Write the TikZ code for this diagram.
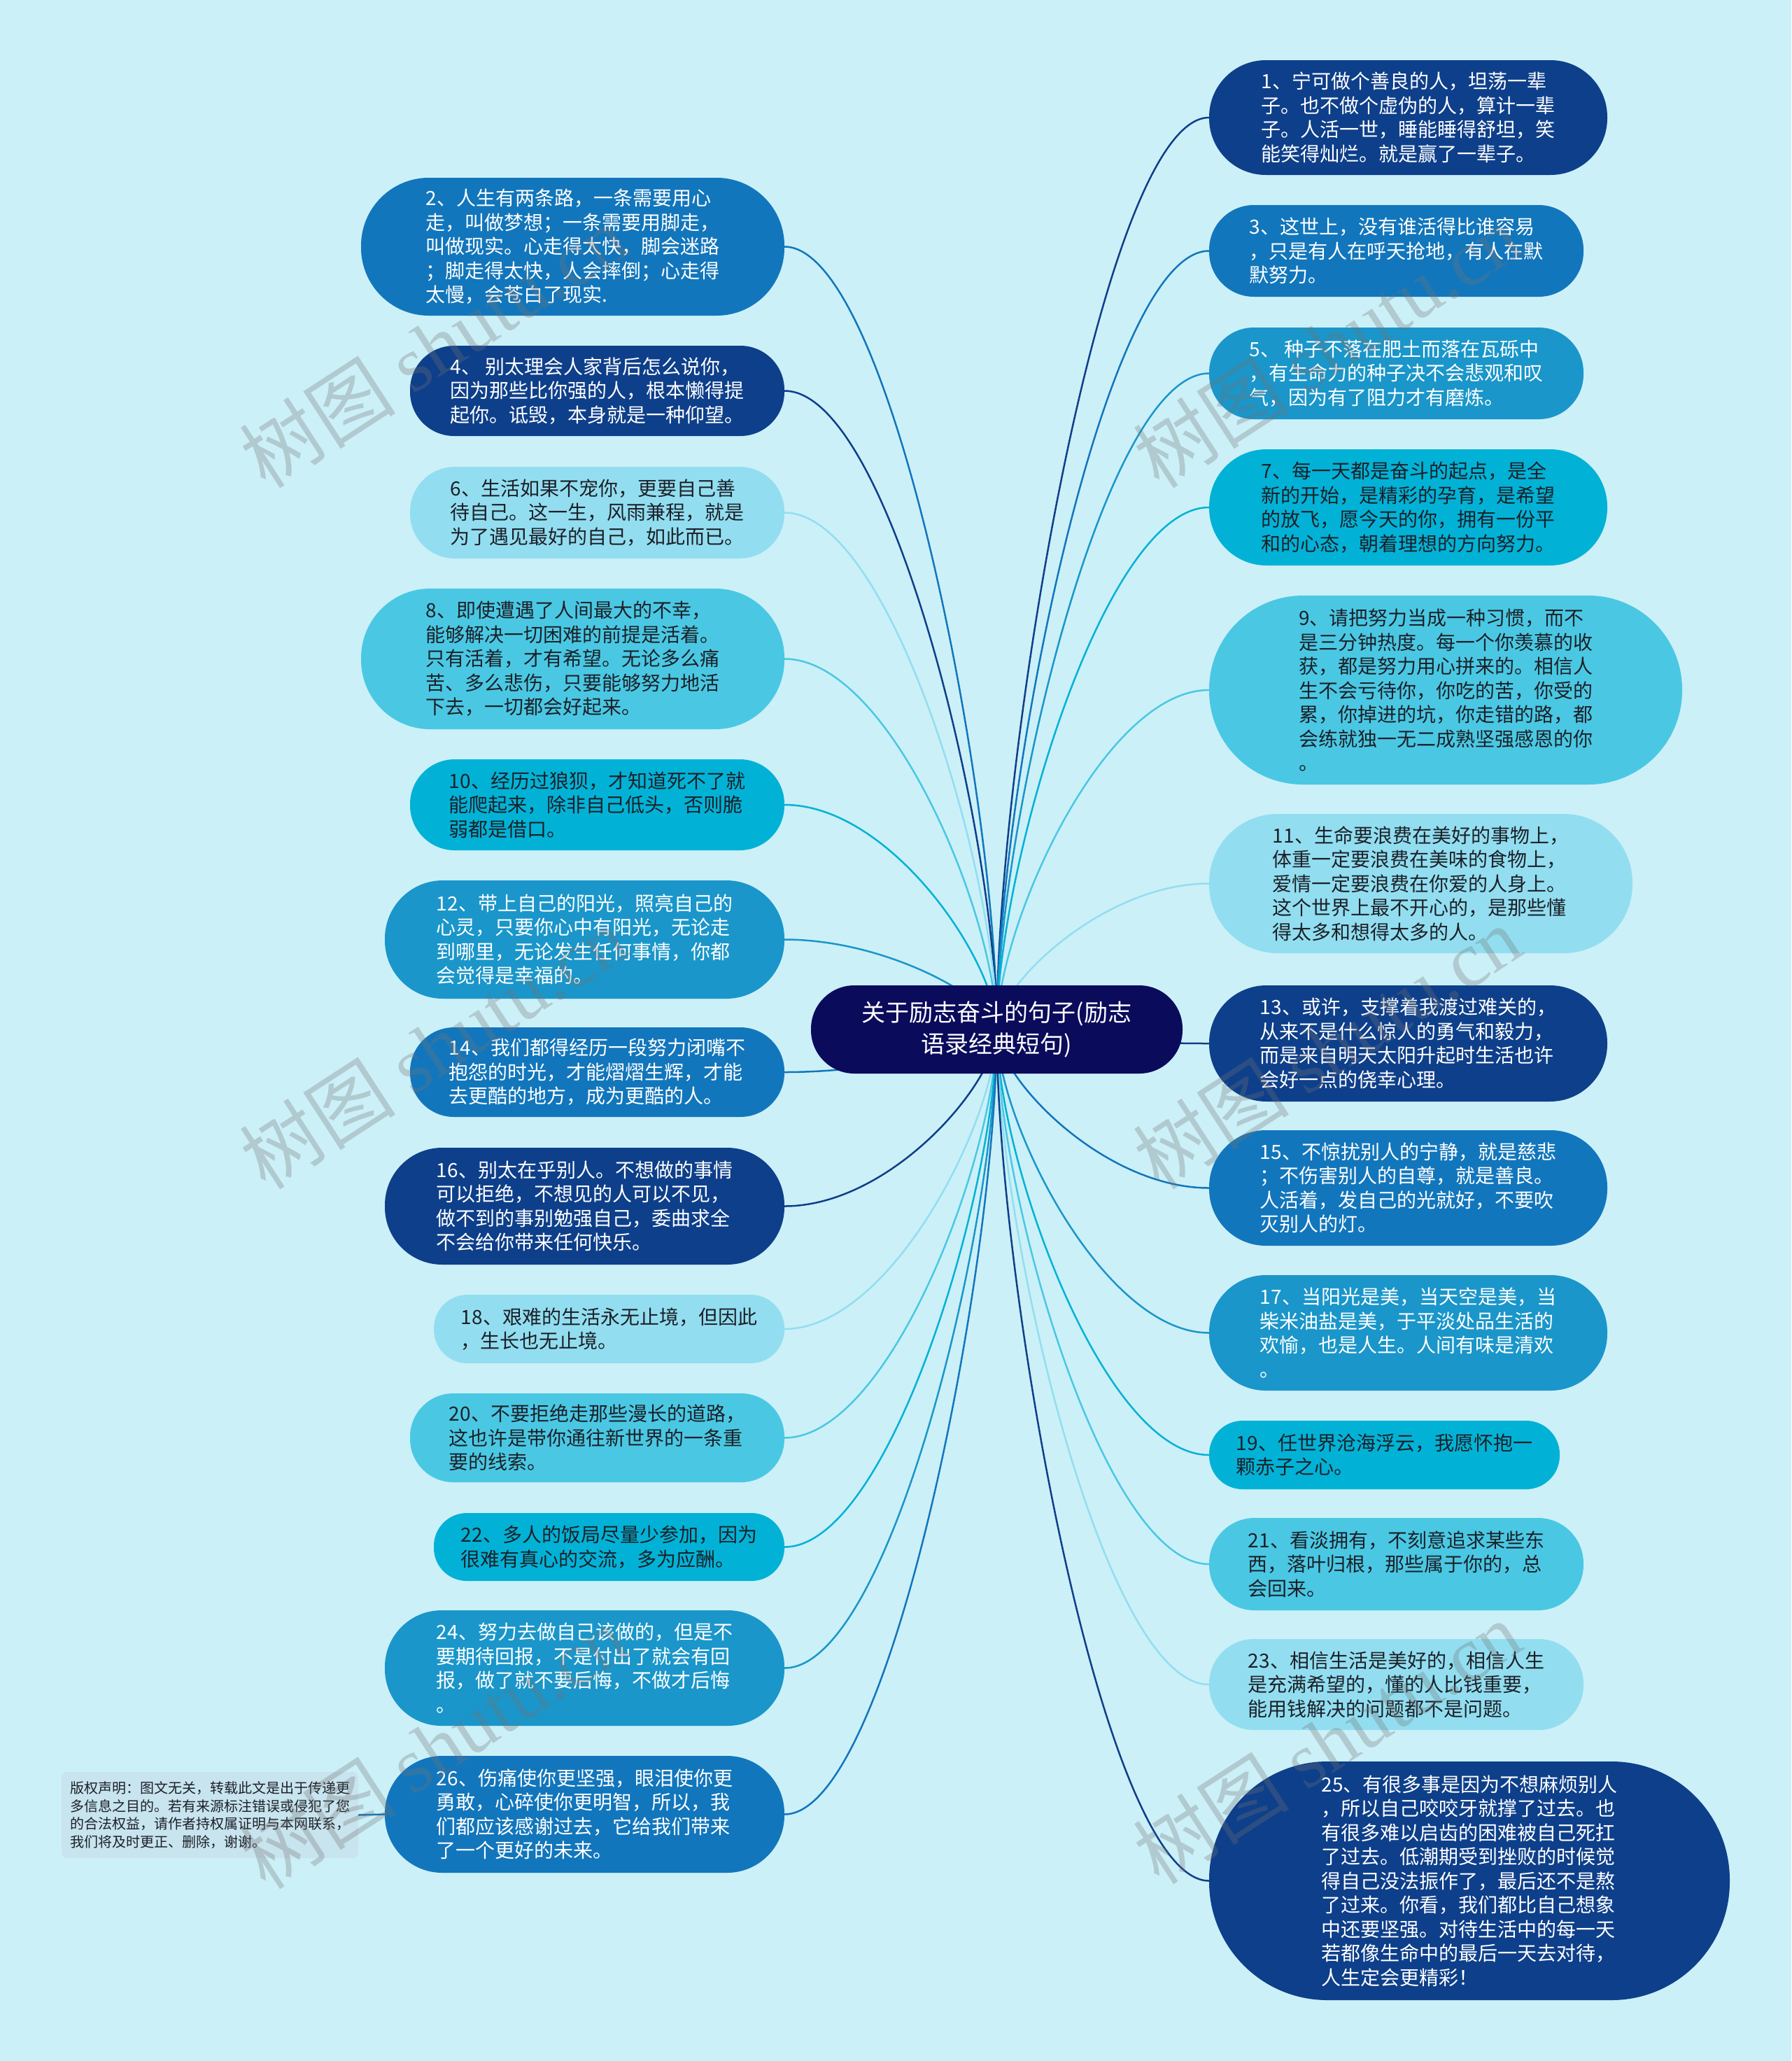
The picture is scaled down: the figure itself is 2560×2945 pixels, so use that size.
\documentclass[tikz,border=0pt]{standalone}
\usepackage{fontspec}
\setmainfont{Noto Sans CJK SC}
\newfontfamily\wmserif{Liberation Serif}
\usetikzlibrary{calc}
\definecolor{bgc}{RGB}{204,240,248}
\definecolor{cnavy}{RGB}{14,63,138}
\definecolor{cblue}{RGB}{18,118,188}
\definecolor{cmid}{RGB}{26,150,202}
\definecolor{ccyan}{RGB}{2,178,214}
\definecolor{clight}{RGB}{74,200,227}
\definecolor{cpale}{RGB}{146,222,240}
\definecolor{ccenter}{RGB}{11,11,92}
\definecolor{cnote}{RGB}{200,228,238}
\definecolor{txtdark}{RGB}{28,32,40}
\pgfdeclarelayer{back}
\pgfdeclarelayer{lines}
\pgfsetlayers{back,lines,main}
\tikzset{
  bx/.style={inner sep=0pt, align=left, font=\fontsize{28pt}{34.5pt}\selectfont},
  wt/.style={text=white},
  dk/.style={text=txtdark},
  conn/.style={line width=2.5pt},
  wm/.style={font=\fontsize{112pt}{112pt}\selectfont, text=black!55, text opacity=0.3, rotate=33, anchor=south west, inner sep=0pt}
}
\begin{document}
\begin{tikzpicture}[x=1pt,y=-1pt]
\begin{pgfonlayer}{back}
\fill[bgc] (0,0) rectangle (2560,2945);
\end{pgfonlayer}
\useasboundingbox (0,0) rectangle (2560,2945);

% center
\node[inner sep=0pt, align=center, fill=ccenter, text=white, font=\fontsize{34pt}{45pt}\selectfont, minimum width=531pt, minimum height=126pt, rounded corners=62pt] (c) at (1424.5,1471) {关于励志奋斗的句子(励志\\语录经典短句)};

% left nodes
\node[bx, fill=cblue, wt, minimum width=605pt, minimum height=197pt, rounded corners=97pt] (n2) at (818.5,352.5) {2、人生有两条路，一条需要用心\\走，叫做梦想；一条需要用脚走，\\叫做现实。心走得太快，脚会迷路\\；脚走得太快，人会摔倒；心走得\\太慢，会苍白了现实.};
\node[bx, fill=cnavy, wt, minimum width=535pt, minimum height=129pt, rounded corners=63pt] (n4) at (853.5,558.5) {4、 别太理会人家背后怎么说你，\\因为那些比你强的人，根本懒得提\\起你。诋毁，本身就是一种仰望。};
\node[bx, fill=cpale, dk, minimum width=535pt, minimum height=131pt, rounded corners=64pt] (n6) at (853.5,732.5) {6、生活如果不宠你，更要自己善\\待自己。这一生，风雨兼程，就是\\为了遇见最好的自己，如此而已。};
\node[bx, fill=clight, dk, minimum width=605pt, minimum height=201pt, rounded corners=99pt] (n8) at (818.5,941.5) {8、即使遭遇了人间最大的不幸，\\能够解决一切困难的前提是活着。\\只有活着，才有希望。无论多么痛\\苦、多么悲伤，只要能够努力地活\\下去，一切都会好起来。};
\node[bx, fill=ccyan, dk, minimum width=535pt, minimum height=130pt, rounded corners=64pt] (n10) at (853.5,1150) {10、经历过狼狈，才知道死不了就\\能爬起来，除非自己低头，否则脆\\弱都是借口。};
\node[bx, fill=cmid, wt, minimum width=571pt, minimum height=169pt, rounded corners=83pt] (n12) at (835.5,1342.5) {12、带上自己的阳光，照亮自己的\\心灵，只要你心中有阳光，无论走\\到哪里，无论发生任何事情，你都\\会觉得是幸福的。};
\node[bx, fill=cblue, wt, minimum width=535pt, minimum height=128pt, rounded corners=63pt] (n14) at (853.5,1532) {14、我们都得经历一段努力闭嘴不\\抱怨的时光，才能熠熠生辉，才能\\去更酷的地方，成为更酷的人。};
\node[bx, fill=cnavy, wt, minimum width=571pt, minimum height=167pt, rounded corners=82pt] (n16) at (835.5,1723.5) {16、别太在乎别人。不想做的事情\\可以拒绝，不想见的人可以不见，\\做不到的事别勉强自己，委曲求全\\不会给你带来任何快乐。};
\node[bx, fill=cpale, dk, minimum width=501pt, minimum height=98pt, rounded corners=48pt] (n18) at (870.5,1899) {18、艰难的生活永无止境，但因此\\，生长也无止境。};
\node[bx, fill=clight, dk, minimum width=535pt, minimum height=127pt, rounded corners=62pt] (n20) at (853.5,2054.5) {20、不要拒绝走那些漫长的道路，\\这也许是带你通往新世界的一条重\\要的线索。};
\node[bx, fill=ccyan, dk, minimum width=501pt, minimum height=97pt, rounded corners=47pt] (n22) at (870.5,2210.5) {22、多人的饭局尽量少参加，因为\\很难有真心的交流，多为应酬。};
\node[bx, fill=cmid, wt, minimum width=571pt, minimum height=165pt, rounded corners=81pt] (n24) at (835.5,2383.5) {24、努力去做自己该做的，但是不\\要期待回报，不是付出了就会有回\\报，做了就不要后悔，不做才后悔\\。};
\node[bx, fill=cblue, wt, minimum width=571pt, minimum height=167pt, rounded corners=82pt] (n26) at (835.5,2592.5) {26、伤痛使你更坚强，眼泪使你更\\勇敢，心碎使你更明智，所以，我\\们都应该感谢过去，它给我们带来\\了一个更好的未来。};

% right nodes
\node[bx, fill=cnavy, wt, minimum width=569pt, minimum height=164pt, rounded corners=81pt] (n1) at (2012.5,168) {1、宁可做个善良的人，坦荡一辈\\子。也不做个虚伪的人，算计一辈\\子。人活一世，睡能睡得舒坦，笑\\能笑得灿烂。就是赢了一辈子。};
\node[bx, fill=cblue, wt, minimum width=535pt, minimum height=131pt, rounded corners=64pt] (n3) at (1995.5,358.5) {3、这世上，没有谁活得比谁容易\\，只是有人在呼天抢地，有人在默\\默努力。};
\node[bx, fill=cmid, wt, minimum width=535pt, minimum height=131pt, rounded corners=64pt] (n5) at (1995.5,533.5) {5、 种子不落在肥土而落在瓦砾中\\，有生命力的种子决不会悲观和叹\\气，因为有了阻力才有磨炼。};
\node[bx, fill=ccyan, dk, minimum width=569pt, minimum height=166pt, rounded corners=82pt] (n7) at (2012.5,725) {7、每一天都是奋斗的起点，是全\\新的开始，是精彩的孕育，是希望\\的放飞，愿今天的你，拥有一份平\\和的心态，朝着理想的方向努力。};
\node[bx, fill=clight, dk, minimum width=676pt, minimum height=270pt, rounded corners=134pt] (n9) at (2066,986) {9、请把努力当成一种习惯，而不\\是三分钟热度。每一个你羡慕的收\\获，都是努力用心拼来的。相信人\\生不会亏待你，你吃的苦，你受的\\累，你掉进的坑，你走错的路，都\\会练就独一无二成熟坚强感恩的你\\。};
\node[bx, fill=cpale, dk, minimum width=605pt, minimum height=199pt, rounded corners=98pt] (n11) at (2030.5,1262.5) {11、生命要浪费在美好的事物上，\\体重一定要浪费在美味的食物上，\\爱情一定要浪费在你爱的人身上。\\这个世界上最不开心的，是那些懂\\得太多和想得太多的人。};
\node[bx, fill=cnavy, wt, minimum width=569pt, minimum height=166pt, rounded corners=82pt] (n13) at (2012.5,1491) {13、或许，支撑着我渡过难关的，\\从来不是什么惊人的勇气和毅力，\\而是来自明天太阳升起时生活也许\\会好一点的侥幸心理。};
\node[bx, fill=cblue, wt, minimum width=569pt, minimum height=165pt, rounded corners=81pt] (n15) at (2012.5,1697.5) {15、不惊扰别人的宁静，就是慈悲\\；不伤害别人的自尊，就是善良。\\人活着，发自己的光就好，不要吹\\灭别人的灯。};
\node[bx, fill=cmid, wt, minimum width=569pt, minimum height=165pt, rounded corners=81pt] (n17) at (2012.5,1904.5) {17、当阳光是美，当天空是美，当\\柴米油盐是美，于平淡处品生活的\\欢愉，也是人生。人间有味是清欢\\。};
\node[bx, fill=ccyan, dk, minimum width=501pt, minimum height=98pt, rounded corners=48pt] (n19) at (1978.5,2079) {19、任世界沧海浮云，我愿怀抱一\\颗赤子之心。};
\node[bx, fill=clight, dk, minimum width=535pt, minimum height=132pt, rounded corners=65pt] (n21) at (1995.5,2235) {21、看淡拥有，不刻意追求某些东\\西，落叶归根，那些属于你的，总\\会回来。};
\node[bx, fill=cpale, dk, minimum width=535pt, minimum height=130pt, rounded corners=64pt] (n23) at (1995.5,2407) {23、相信生活是美好的，相信人生\\是充满希望的，懂的人比钱重要，\\能用钱解决的问题都不是问题。};
\node[bx, fill=cnavy, wt, minimum width=744pt, minimum height=341pt, rounded corners=169pt] (n25) at (2100,2687.5) {25、有很多事是因为不想麻烦别人\\，所以自己咬咬牙就撑了过去。也\\有很多难以启齿的困难被自己死扛\\了过去。低潮期受到挫败的时候觉\\得自己没法振作了，最后还不是熬\\了过来。你看，我们都比自己想象\\中还要坚强。对待生活中的每一天\\若都像生命中的最后一天去对待，\\人生定会更精彩！};

% copyright note
\node[inner sep=0pt, align=left, fill=cnote, text=txtdark, font=\fontsize{20pt}{25.7pt}\selectfont, minimum width=424pt, minimum height=123pt, rounded corners=8pt] (cp) at (300,2593.5) {版权声明：图文无关，转载此文是出于传递更\\多信息之目的。若有来源标注错误或侵犯了您\\的合法权益，请作者持权属证明与本网联系，\\我们将及时更正、删除，谢谢。};

% connectors
\begin{pgfonlayer}{lines}
\foreach \n/\col in {n2/cblue,n4/cnavy,n6/cpale,n8/clight,n10/ccyan,n12/cmid,n14/cblue,n16/cnavy,n18/cpale,n20/clight,n22/ccyan,n24/cmid,n26/cblue}
  \draw[conn,\col] (c.center) .. controls ($(c.center)!0.3!(c.center |- \n.east)$) and ($(\n.east)!0.5!(\n.east -| c.center)$) .. (\n.east);
\foreach \n/\col in {n1/cnavy,n3/cblue,n5/cmid,n7/ccyan,n9/clight,n11/cpale,n13/cnavy,n15/cblue,n17/cmid,n19/ccyan,n21/clight,n23/cpale,n25/cnavy}
  \draw[conn,\col] (c.center) .. controls ($(c.center)!0.3!(c.center |- \n.west)$) and ($(\n.west)!0.5!(\n.west -| c.center)$) .. (\n.west);
\draw[conn,cblue] (cp.east) -- (n26.west);
\end{pgfonlayer}

% watermarks
\node[wm] (w1) at (385,708) {树图 {\wmserif shutu.cn}};
\node[wm] (w2) at (385,1710) {树图 {\wmserif shutu.cn}};
\node[wm] (w3) at (385,2710) {树图 {\wmserif shutu.cn}};
\node[wm] (w4) at (1662,708) {树图 {\wmserif shutu.cn}};
\node[wm] (w5) at (1662,1710) {树图 {\wmserif shutu.cn}};
\node[wm] (w6) at (1662,2703) {树图 {\wmserif shutu.cn}};
\end{tikzpicture}
\end{document}
